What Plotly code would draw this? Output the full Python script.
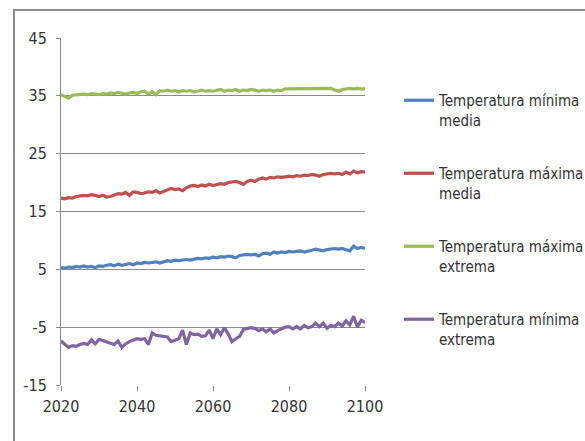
import plotly.graph_objects as go

# Annual series, 2020-2100
years = list(range(2020, 2101))

tmin_media = [
    5.3, 5.2, 5.4, 5.3, 5.5, 5.4, 5.6, 5.4, 5.5, 5.3,
    5.6, 5.5, 5.7, 5.8, 5.6, 5.9, 5.7, 5.8, 6.0, 5.8,
    6.1, 6.0, 6.2, 6.1, 6.2, 6.3, 6.1, 6.3, 6.5, 6.4,
    6.6, 6.5, 6.6, 6.7, 6.6, 6.7, 6.9, 6.8, 7.0, 6.9,
    7.1, 7.0, 7.2, 7.1, 7.3, 7.2, 7.0, 7.4, 7.5, 7.6,
    7.5, 7.6, 7.3, 7.7, 7.8, 7.6, 8.0, 7.8, 8.0, 7.9,
    8.1, 8.0, 8.1, 8.2, 8.0, 8.1, 8.3, 8.5, 8.4, 8.2,
    8.4, 8.5, 8.6, 8.5, 8.6, 8.4, 8.2, 9.0, 8.6, 8.8,
    8.6,
]

tmax_media = [
    17.3, 17.2, 17.4, 17.3, 17.6, 17.7, 17.8, 17.7, 17.9, 17.8,
    17.6, 17.8, 17.5, 17.6, 17.9, 18.1, 18.0, 18.3, 17.8, 18.4,
    18.3, 18.1, 18.2, 18.4, 18.3, 18.6, 18.2, 18.5, 18.8, 19.0,
    18.8, 18.9, 18.6, 19.1, 19.4, 19.5, 19.3, 19.6, 19.4, 19.7,
    19.5, 19.6, 19.8, 19.7, 20.0, 20.1, 20.2, 20.0, 19.7, 20.2,
    20.4, 20.2, 20.6, 20.8, 20.6, 20.9, 20.8, 21.0, 20.9, 21.0,
    21.1, 21.0, 21.2, 21.1, 21.3, 21.2, 21.4, 21.3, 21.1, 21.4,
    21.5, 21.6, 21.5, 21.6, 21.4, 21.8, 21.5, 22.0, 21.7, 21.9,
    21.8,
]

tmax_extrema = [
    35.2, 34.9, 34.6, 35.1, 35.2, 35.2, 35.3, 35.2, 35.4, 35.3,
    35.2, 35.4, 35.3, 35.5, 35.4, 35.6, 35.4, 35.3, 35.5, 35.6,
    35.4, 35.7, 35.8, 35.3, 35.7, 35.2, 35.9, 35.8, 36.0, 35.8,
    35.9, 35.7, 35.9, 35.8, 35.9, 35.7, 35.8, 36.0, 35.8, 35.9,
    35.8, 35.9, 36.1, 35.8, 36.0, 35.9, 36.1, 35.8, 36.0, 35.9,
    36.1, 36.0, 35.8, 36.0, 35.9, 36.0, 35.8, 36.0, 35.9, 36.2,
    36.2, 36.3, 36.2, 36.3, 36.2, 36.3, 36.2, 36.3, 36.2, 36.3,
    36.2, 36.3, 36.0, 35.8, 36.1, 36.2, 36.3, 36.2, 36.3, 36.2,
    36.2,
]

tmin_extrema = [
    -7.4, -7.9, -8.5, -8.2, -8.3, -8.0, -7.8, -8.0, -7.2, -7.9,
    -7.1, -7.3, -7.6, -7.8, -8.0, -7.4, -8.5, -7.9, -7.5, -7.2,
    -7.0, -7.1, -7.0, -8.0, -6.0, -6.4, -6.5, -6.5, -6.7, -7.5,
    -7.3, -7.0, -5.5, -8.0, -6.0, -6.3, -6.2, -6.6, -6.5, -5.5,
    -7.0, -5.3, -6.3, -5.1, -6.2, -7.5, -7.0, -6.6, -5.4, -5.3,
    -5.1, -5.2, -5.6, -5.3, -5.8, -5.3, -6.0, -5.6, -5.3, -5.0,
    -4.9, -5.3, -4.9, -5.3, -4.7, -5.1, -4.9, -4.3, -4.9, -4.3,
    -5.2, -4.7, -4.9, -4.3, -4.8, -3.9, -4.6, -3.1, -5.0, -3.8,
    -4.2,
]

y_ticks = [-15, -5, 5, 15, 25, 35, 45]
y_tick_labels = ["-15", "-5", "5", "15", "25", "35", "45"]
x_ticks = [2020, 2040, 2060, 2080, 2100]

series = [
    ("Temperatura mínima<br>media", tmin_media, "#4F81BD"),
    ("Temperatura máxima<br>media", tmax_media, "#C0504D"),
    ("Temperatura máxima<br>extrema", tmax_extrema, "#9BBB59"),
    ("Temperatura mínima<br>extrema", tmin_extrema, "#8064A2"),
]

FONT = "Liberation Sans Narrow, DejaVu Sans Condensed, Arial Narrow, sans-serif"

fig = go.Figure()
for i, (name, vals, color) in enumerate(series):
    fig.add_trace(go.Scatter(
        x=years, y=vals, name=name, mode="lines",
        line=dict(color=color, width=3.2),
        legendgroup=f"g{i}",
    ))

grid = "#8a8a8a"
fig.update_layout(
    width=585, height=441,
    margin=dict(l=61, r=220, t=38, b=56, autoexpand=False),
    paper_bgcolor="white", plot_bgcolor="white",
    font=dict(family=FONT, size=15, color="#333333"),
    showlegend=True,
    legend=dict(
        xref="container", yref="container",
        x=399 / 585, xanchor="left", y=1 - 84 / 441, yanchor="top",
        traceorder="grouped", tracegroupgap=31, valign="top",
        maxheight=420,
        font=dict(family=FONT, size=15, color="#333333"),
        bgcolor="rgba(0,0,0,0)",
    ),
    xaxis=dict(
        range=[2020, 2100], tickvals=x_ticks,
        showgrid=False, zeroline=False,
        ticks="outside", ticklen=5, tickcolor=grid,
        showline=False,
        tickfont=dict(size=16, color="#333333"),
        ticklabelstandoff=2,
    ),
    yaxis=dict(
        range=[-15, 45], tickvals=y_ticks, ticktext=y_tick_labels,
        showgrid=True, gridcolor=grid, gridwidth=1,
        zeroline=False,
        showline=True, linecolor=grid, linewidth=1,
        ticks="outside", ticklen=4, tickcolor=grid,
        tickfont=dict(size=16, color="#333333"),
        ticklabelstandoff=6,
    ),
    shapes=[
        # outer chart frame
        dict(type="rect", xref="paper", yref="paper",
             x0=(14 - 61) / 304, x1=1.9, y0=-0.3, y1=(385 - 10) / 347,
             line=dict(color="#8c8c8c", width=2), fillcolor="rgba(0,0,0,0)",
             layer="below"),
    ],
)

fig.write_html("out.html")
